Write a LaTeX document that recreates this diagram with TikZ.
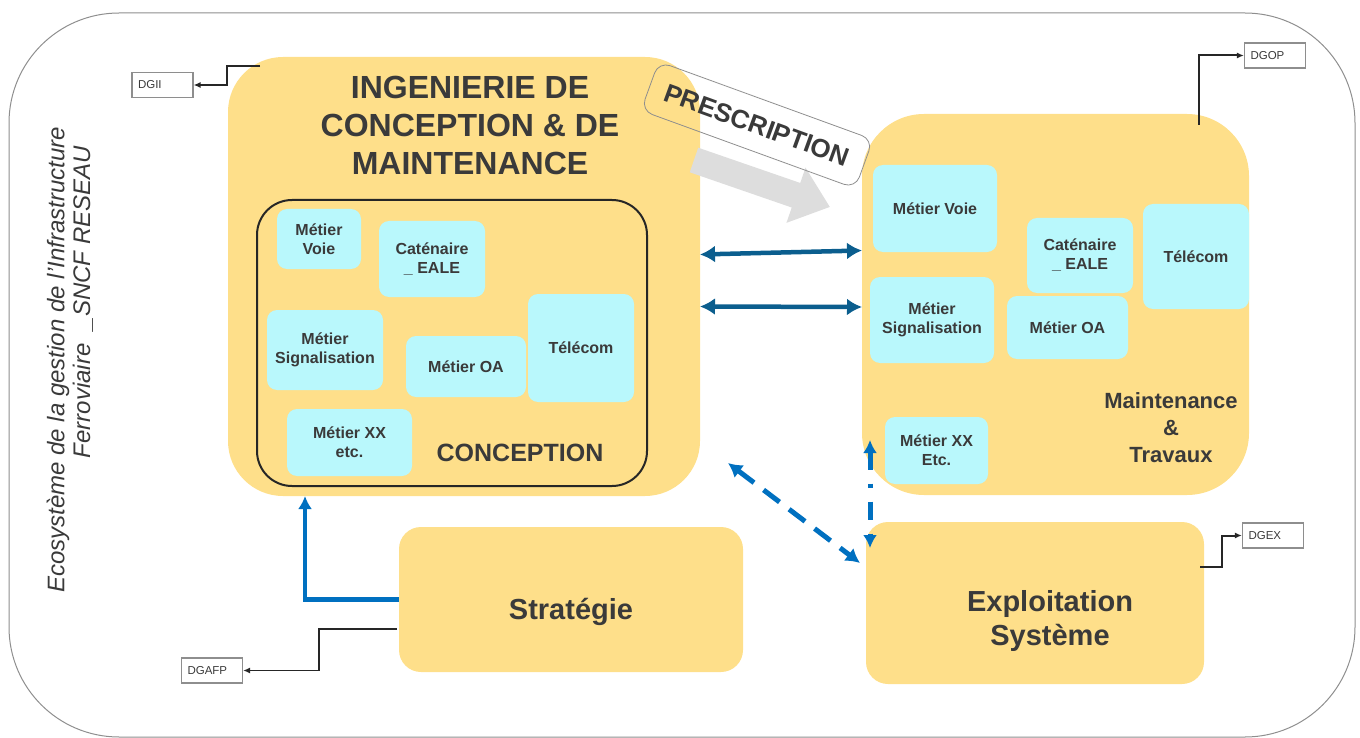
\documentclass[tikz,border=0pt]{standalone}
\usepackage{fontspec}
\setmainfont{Liberation Sans}
\usetikzlibrary{arrows,arrows.meta}
\tikzset{>=latex}
\usepackage{xcolor}
\definecolor{boxyellow}{HTML}{FEDF8A}
\definecolor{boxcyan}{HTML}{B9F8FC}
\definecolor{inktext}{HTML}{3A3A3A}
\definecolor{linkblue}{HTML}{0070C0}
\definecolor{linkteal}{HTML}{0B5E8E}
\definecolor{prescgray}{HTML}{DDDDDD}
\definecolor{framegray}{HTML}{8E8E8E}
\tikzset{
  yellowbox/.style={fill=boxyellow, inner sep=0pt, outer sep=0pt},
  metier/.style={fill=boxcyan, rounded corners=10pt, inner sep=0pt, outer sep=0pt,
    align=center, text=inktext, font=\fontsize{16}{19}\selectfont\bfseries},
  dgbox/.style={draw=framegray, fill=white, line width=1.2pt, minimum width=61pt,
    minimum height=25pt, inner sep=0pt, text width=49pt, align=left,
    text=inktext, font=\fontsize{11.5}{13}\selectfont},
  dglink/.style={draw=black!85, line width=2pt, -{Latex[length=7pt,width=6pt]}},
  teallink/.style={draw=linkteal, line width=4.5pt,
    {Latex[length=15pt,width=17pt]}-{Latex[length=15pt,width=17pt]}},
  dashlink/.style={draw=linkblue, line width=5pt, dash pattern=on 20pt off 12pt,
    {Latex[length=14pt,width=16pt]}-{Latex[length=14pt,width=16pt]}},
  dotlink/.style={draw=linkblue, line width=5pt, dash pattern=on 18pt off 14pt on 4pt off 14pt,
    {Latex[length=13pt,width=14pt]}-{Latex[length=13pt,width=14pt]}},
  stratlink/.style={draw=linkblue, line width=4.5pt, -{Latex[length=13pt,width=14pt]}},
  bigtext/.style={text=inktext, align=center, inner sep=0pt}
}

\begin{document}
\begin{tikzpicture}[x=1pt, y=-1pt]
    \useasboundingbox (0,0) rectangle (1360,738);
    % outer frame
    \draw[framegray, line width=1pt, rounded corners=110pt] (9,13) rectangle (1355,737);
    \node[bigtext, rotate=90, font=\fontsize{24}{26}\selectfont\itshape] (ecoA) at (58,360) {Ecosystème de la gestion de l'Infrastructure};
    \node[bigtext, rotate=90, font=\fontsize{24}{26}\selectfont\itshape] (ecoB) at (83,302) {Ferroviaire\ \ \_SNCF RESEAU};

    % main blocks
    \node[yellowbox, rounded corners=55pt, minimum width=472pt, minimum height=439pt] (ing) at (464,276.5) {};
    \node[yellowbox, rounded corners=62pt, minimum width=387pt, minimum height=381pt] (mt) at (1055.5,304.5) {};
    \node[yellowbox, rounded corners=22pt, minimum width=344pt, minimum height=145pt] (strat) at (571,599.5) {};
    \node[yellowbox, rounded corners=22pt, minimum width=338pt, minimum height=162pt] (expl) at (1035,603) {};

    \node[bigtext, font=\fontsize{32}{38}\selectfont\bfseries] (ingtitle) at (470,125) {INGENIERIE DE\\CONCEPTION \& DE\\MAINTENANCE};
    \node[draw=black!85, line width=2pt, rounded corners=35pt, minimum width=390pt, minimum height=286pt] (conc) at (452,343) {};

    % metiers conception
    \node[metier, minimum width=84pt, minimum height=60pt] (lvoie) at (319,239) {Métier\\Voie};
    \node[metier, minimum width=106pt, minimum height=76pt] (lcat) at (432,259) {Caténaire\\\_ EALE};
    \node[metier, minimum width=116pt, minimum height=80pt] (lsig) at (325,350) {Métier\\Signalisation};
    \node[metier, minimum width=120pt, minimum height=61pt] (loa) at (466,366.5) {Métier OA};
    \node[metier, minimum width=106pt, minimum height=108pt] (ltel) at (581,348) {Télécom};
    \node[metier, minimum width=125pt, minimum height=67pt] (lxx) at (349.5,442.5) {Métier XX\\etc.};
    \node[bigtext, font=\fontsize{25}{30}\selectfont\bfseries] (conctitle) at (520,453) {CONCEPTION};

    % metiers maintenance
    \node[metier, minimum width=124pt, minimum height=87pt] (rvoie) at (935,208.5) {Métier Voie};
    \node[metier, minimum width=106pt, minimum height=75pt] (rcat) at (1080,255.5) {Caténaire\\\_ EALE};
    \node[metier, minimum width=106pt, minimum height=105pt] (rtel) at (1196,256.5) {Télécom};
    \node[metier, minimum width=124pt, minimum height=86pt] (rsig) at (932,320) {Métier\\Signalisation};
    \node[metier, minimum width=121pt, minimum height=63pt] (roa) at (1067.5,327.5) {Métier OA};
    \node[metier, minimum width=103pt, minimum height=67pt] (rxx) at (936.5,450.5) {Métier XX\\Etc.};
    \node[bigtext, font=\fontsize{22}{27}\selectfont\bfseries] (mttitle) at (1171,428) {Maintenance\\\&\\Travaux};

    \node[bigtext, font=\fontsize{29}{34}\selectfont\bfseries] (strattitle) at (571,612) {Stratégie};
    \node[bigtext, font=\fontsize{29}{34}\selectfont\bfseries] (expltitle) at (1050,621) {Exploitation\\Système};

    % prescription
    \coordinate (gA) at (694,160);
    \coordinate (gB) at (830,207);
    \draw[prescgray, line width=26pt, -{Triangle[length=36pt,width=56pt]}] (gA) -- (gB);
    \node[draw=framegray, line width=0.8pt, rounded corners=12pt, rotate=-20, minimum width=228pt,
      minimum height=52pt, text=inktext, font=\fontsize{26}{30}\selectfont\bfseries] (presc) at (757,125) {PRESCRIPTION};

    % DG links
    \node[dgbox] (dgii) at (162.5,85) {DGII};
    \node[dgbox] (dgop) at (1275,55.5) {DGOP};
    \node[dgbox] (dgex) at (1273,535.5) {DGEX};
    \node[dgbox] (dgafp) at (212,670.5) {DGAFP};
    \coordinate (cii) at (260,66);
    \coordinate (cop) at (1199,125);
    \coordinate (cex) at (1200,567);
    \coordinate (cafp) at (397,629);
    \draw[dglink, line width=2.5pt] (cii) -- ++(-33,0) |- (dgii);
    \draw[dglink] (cop) |- (dgop);
    \draw[dglink] (cex) -- ++(22,0) |- (dgex);
    \draw[dglink, line width=1.5pt] (cafp) -- ++(-78,0) |- (dgafp);

    % flows
    \draw[teallink] ([yshift=22pt]ing.east) -- ([yshift=54pt]mt.west);
    \draw[teallink] ([yshift=-30pt]ing.east) -- ([yshift=-2.5pt]mt.west);
    \draw[stratlink] (strat.west) -| ([xshift=77pt]ing.south west);
    \coordinate (dA) at (728,463);
    \coordinate (dB) at (860,563);
    \draw[dashlink] (dA) -- (dB);
    \coordinate (vA) at (870,440);
    \coordinate (vB) at (870,548);
    \draw[dotlink] (vA) -- (vB);
\end{tikzpicture}
\end{document}
